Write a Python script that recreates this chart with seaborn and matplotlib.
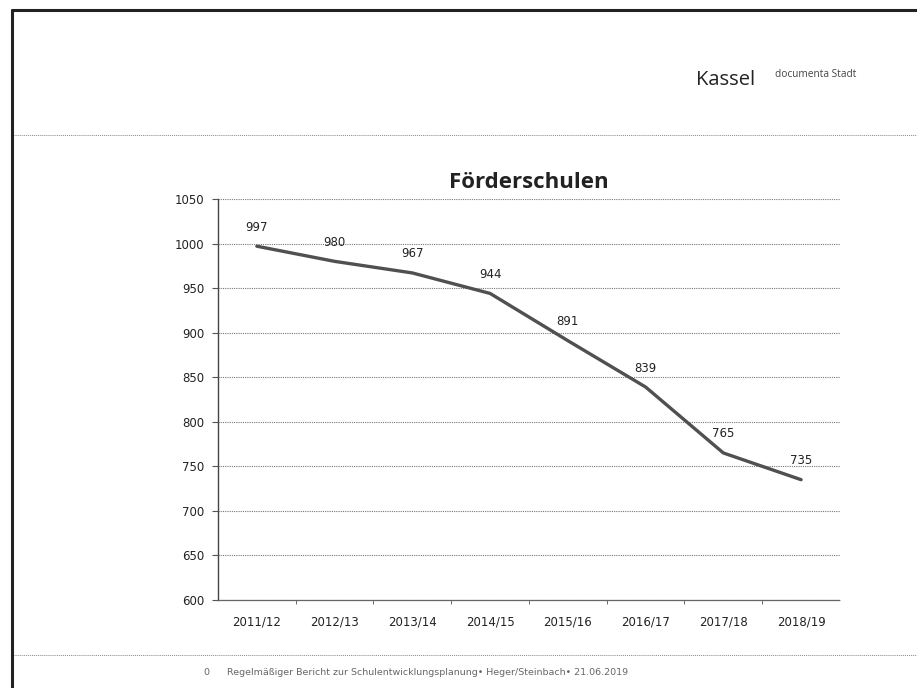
import numpy as np
import pandas as pd
import seaborn as sns
import matplotlib.pyplot as plt
from matplotlib.lines import Line2D

# Data
school_years = ["2011/12", "2012/13", "2013/14", "2014/15",
                "2015/16", "2016/17", "2017/18", "2018/19"]
pupils = [997, 980, 967, 944, 891, 839, 765, 735]
y_ticks = [600, 650, 700, 750, 800, 850, 900, 950, 1000, 1050]

df = pd.DataFrame({"Schuljahr": school_years, "Schueler": pupils})

sns.set_style("white")
plt.rcParams["font.family"] = ["DejaVu Sans"]

fig = plt.figure(figsize=(9.17, 6.88), dpi=100)
ax = fig.add_axes([0.2377, 0.1279, 0.6783, 0.5829])

sns.lineplot(data=df, x="Schuljahr", y="Schueler", ax=ax,
             color="#505050", linewidth=2.4, sort=False)

# data labels above the points
for i, v in enumerate(pupils):
    ax.annotate(str(v), (i, v), xytext=(0, 9), textcoords="offset points",
                ha="center", va="bottom", fontsize=8.5, color="#222222")

ax.set_xlim(-0.5, len(school_years) - 0.5)
ax.set_ylim(600, 1050)
ax.set_yticks(y_ticks)
ax.set_xticks(range(len(school_years)))
ax.set_xticklabels(school_years)
ax.set_xticks(np.arange(0.5, len(school_years) - 0.5, 1), minor=True)

ax.grid(axis="y", linestyle=(0, (1, 1)), color="#777777", linewidth=0.8)
ax.set_axisbelow(True)
ax.tick_params(axis="x", which="major", length=0, pad=11, labelsize=8.5,
               colors="#222222")
ax.tick_params(axis="x", which="minor", length=3, color="#555555", bottom=True)
ax.tick_params(axis="y", length=4, color="#555555", left=True, pad=6,
               labelsize=8.5, colors="#222222")

for s in ["top", "right"]:
    ax.spines[s].set_visible(False)
ax.spines["left"].set_color("#444444")
ax.spines["left"].set_linewidth(1.0)
ax.spines["bottom"].set_color("#666666")
ax.spines["bottom"].set_linestyle((0, (1, 1)))
ax.spines["bottom"].set_linewidth(0.9)
ax.set_xlabel("")
ax.set_ylabel("")

ax.set_title("Förderschulen", fontsize=16, color="#222222", pad=8,
             family=["Open Sans", "DejaVu Sans"], fontweight="bold")

# slide decoration: frame, header and footer
fig.add_artist(Line2D([0.013, 0.013], [0.0, 0.985], color="#222222", lw=2.2))
fig.add_artist(Line2D([0.013, 1.0], [0.985, 0.985], color="#222222", lw=2.2))
fig.add_artist(Line2D([0.015, 1.0], [0.804, 0.804], color="#888888", lw=0.7,
                      linestyle=(0, (1, 1))))
fig.add_artist(Line2D([0.015, 1.0], [0.048, 0.048], color="#888888", lw=0.7,
                      linestyle=(0, (1, 1))))
fig.text(0.759, 0.883, "Kassel", fontsize=14.5, color="#222222", va="center",
         family=["Open Sans", "DejaVu Sans"])
fig.text(0.845, 0.891, "documenta Stadt", fontsize=7.3, color="#444444",
         va="center", family=["Open Sans", "DejaVu Sans"])
fig.text(0.222, 0.023, "0", fontsize=6.8, color="#666666", va="center")
fig.text(0.248, 0.023,
         "Regelmäßiger Bericht zur Schulentwicklungsplanung• Heger/Steinbach• 21.06.2019",
         fontsize=6.8, color="#666666", va="center")

fig.savefig("out.png", dpi=100)
